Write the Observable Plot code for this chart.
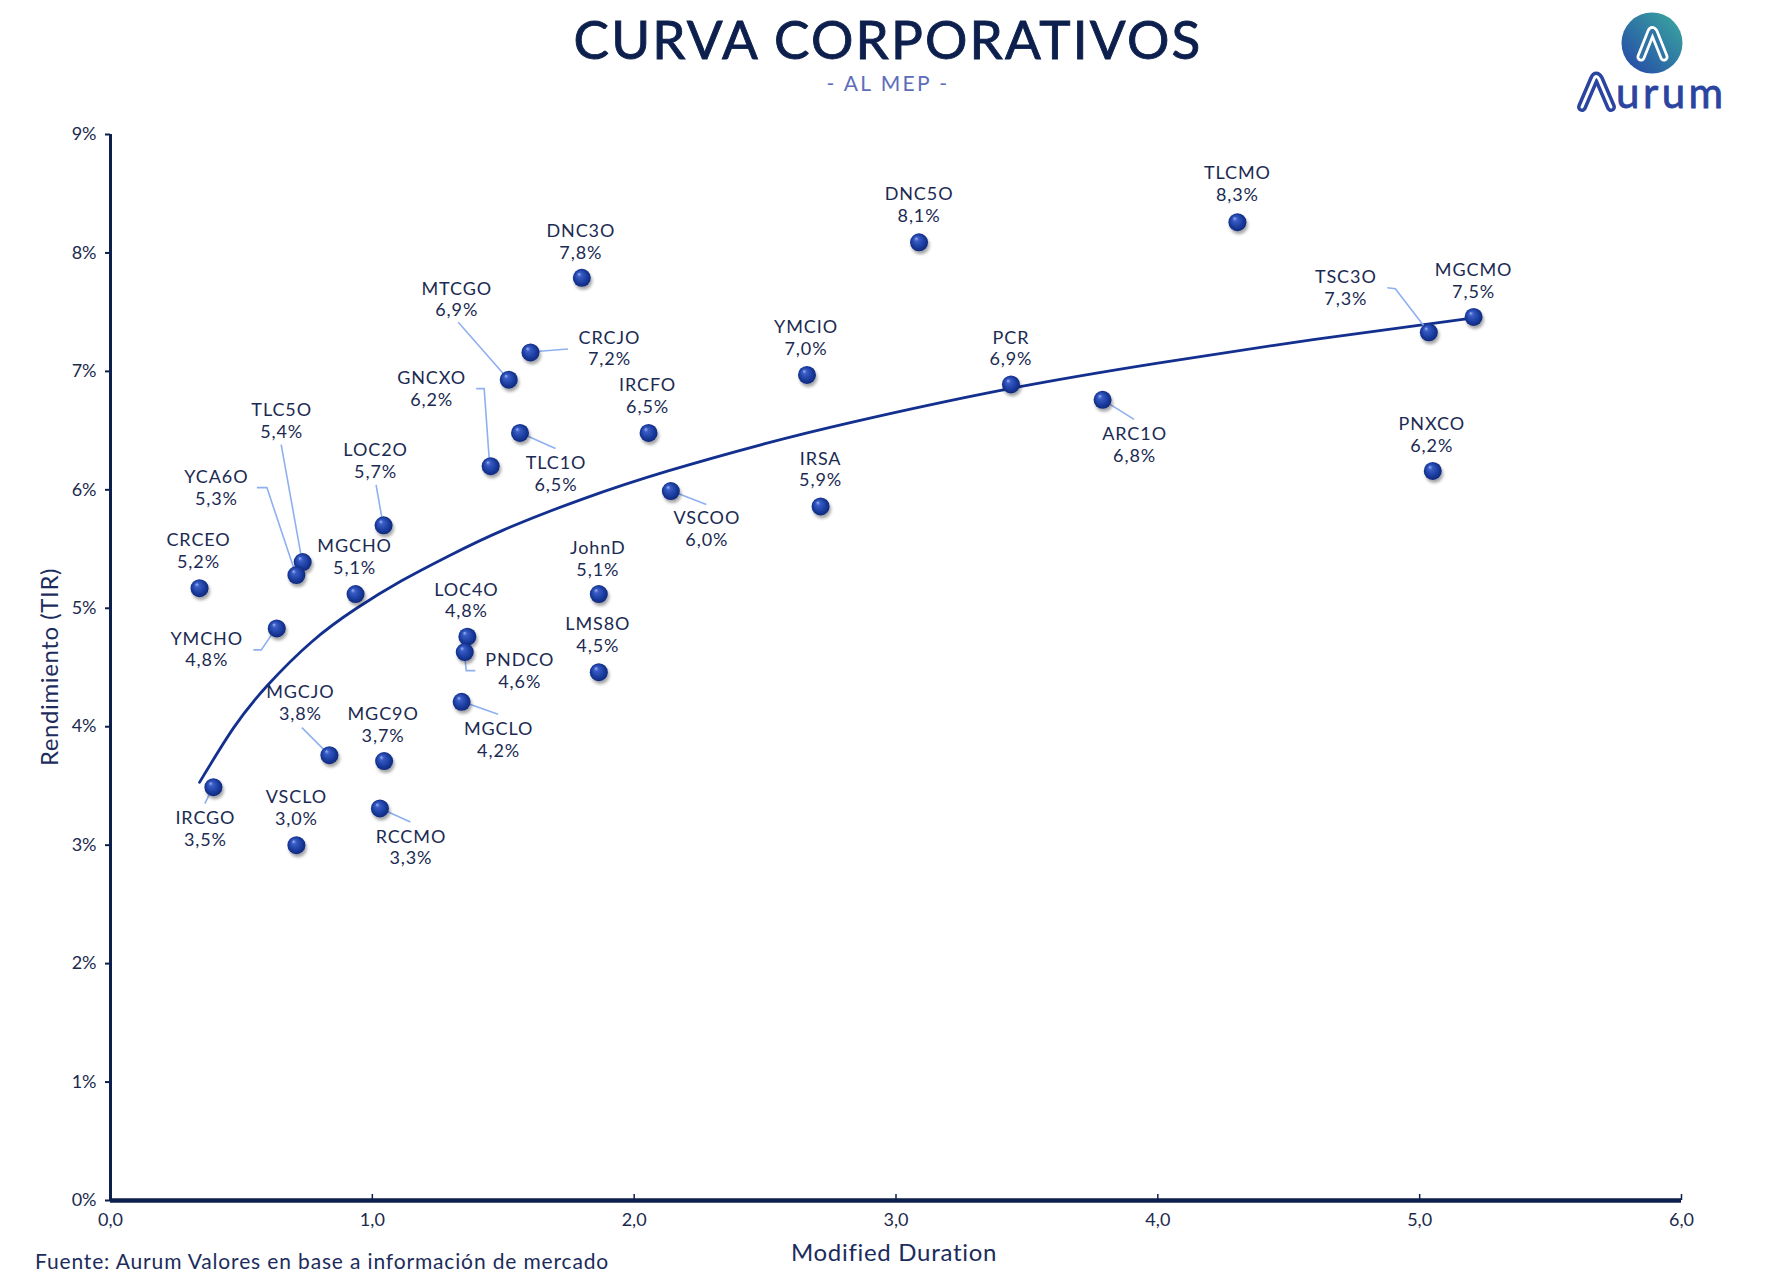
<!DOCTYPE html>
<html>
<head>
<meta charset="utf-8">
<script src="https://cdn.jsdelivr.net/npm/d3@7"></script>
<script src="https://cdn.jsdelivr.net/npm/@observablehq/plot@0.6"></script>
<style>
  body { margin: 0; background: #ffffff; }
  #wrap { position: relative; width: 1775px; height: 1288px; overflow: hidden; background: #ffffff; font-family: Lato, "Open Sans", sans-serif; }
  #chart { position: absolute; left: 0; top: 100px; }
  #deco { position: absolute; left: 0; top: 0; pointer-events: none; }
</style>
</head>
<body>
<div id="wrap">
  <div id="chart"></div>
  <svg id="deco" width="1775" height="1288" font-family="Lato, 'Open Sans', sans-serif">
    <defs>
      <linearGradient id="logoGrad" x1="0" y1="1" x2="1" y2="0">
        <stop offset="0" stop-color="#2444a8"/>
        <stop offset="1" stop-color="#3bab9f"/>
      </linearGradient>
    </defs>
    <text x="888" y="59" text-anchor="middle" font-size="53" font-weight="400" fill="#0d1f4c" stroke="#0d1f4c" stroke-width="0.9" letter-spacing="2.2">CURVA CORPORATIVOS</text>
    <text x="888" y="91" text-anchor="middle" font-size="21" fill="#5d6dba" letter-spacing="2.4">- AL MEP -</text>
    <g transform="translate(1652,43)">
      <circle r="30.5" fill="url(#logoGrad)"/>
      <path d="M-11,14 L-1,-11 Q0,-14 2,-11 L12,14" fill="none" stroke="#ffffff" stroke-width="9" stroke-linecap="round" stroke-linejoin="round"/>
      <path d="M-11,14 L-1,-11 Q0,-14 2,-11 L12,14" fill="none" stroke="#2f74a6" stroke-width="3.5" stroke-linecap="round" stroke-linejoin="round"/>
    </g>
    <path d="M1582,107 L1594,79 Q1596,74 1599,79 L1611,107" fill="none" stroke="#2a44a0" stroke-width="10" stroke-linecap="round" stroke-linejoin="round"/>
    <path d="M1582,107 L1594,79 Q1596,74 1599,79 L1611,107" fill="none" stroke="#ffffff" stroke-width="3" stroke-linecap="round" stroke-linejoin="round"/>
    <text x="1616" y="108" font-size="42" fill="#2a44a0" stroke="#2a44a0" stroke-width="0.8" letter-spacing="3.5">urum</text>
    <text transform="translate(48,667) rotate(-90)" text-anchor="middle" dominant-baseline="central" font-size="24" fill="#1c2c5c" letter-spacing="0.6">Rendimiento (TIR)</text>
    <text x="894" y="1251" text-anchor="middle" dominant-baseline="central" font-size="24" fill="#1c2c5c" letter-spacing="0.7">Modified Duration</text>
    <text x="35" y="1260" dominant-baseline="central" font-size="21" fill="#1c2c5c" letter-spacing="0.85">Fuente: Aurum Valores en base a información de mercado</text>
  </svg>
</div>
<script>
// ---- data ----
const names = ["TLCMO","DNC5O","DNC3O","MTCGO","CRCJO","YMCIO","PCR","ARC1O","TSC3O","MGCMO","PNXCO",
  "GNCXO","TLC1O","IRCFO","VSCOO","IRSA","LOC2O","TLC5O","YCA6O","CRCEO","MGCHO","JohnD",
  "YMCHO","LOC4O","PNDCO","LMS8O","MGCLO","MGCJO","MGC9O","IRCGO","RCCMO","VSCLO"];
const duration = [4.304,3.088,1.800,1.521,1.604,2.660,3.439,3.789,5.035,5.206,5.050,
  1.452,1.564,2.055,2.140,2.712,1.043,0.734,0.710,0.340,0.936,1.865,
  0.635,1.363,1.353,1.865,1.341,0.836,1.045,0.393,1.029,0.710];
const yieldPct = [8.26,8.09,7.79,6.93,7.16,6.97,6.89,6.76,7.33,7.46,6.16,
  6.20,6.48,6.48,5.99,5.86,5.70,5.39,5.28,5.17,5.12,5.12,
  4.83,4.76,4.63,4.46,4.21,3.76,3.71,3.49,3.31,3.00];
const xTicks = [0,1,2,3,4,5,6];
const yTicks = [0,1,2,3,4,5,6,7,8,9];
// logarithmic trend line
const trendX = [0.34,0.47,0.60,0.77,0.94,1.11,1.29,1.50,1.80,2.13,2.50,2.83,3.40,4.00,4.60,5.20];
const trendY = [3.53,3.99,4.35,4.72,5.00,5.23,5.44,5.66,5.92,6.16,6.39,6.57,6.84,7.07,7.27,7.45];

// ---- layout (pixel offsets of labels and leader lines, relative to each point) ----
const labelOffset = {
  TLCMO:[0,-39], DNC5O:[0,-38], DNC3O:[-1,-37], MTCGO:[-52,-81], CRCJO:[79,-5], YMCIO:[-1,-38],
  PCR:[0,-37], ARC1O:[32,44], TSC3O:[-83,-45], MGCMO:[0,-37], PNXCO:[-1,-37], GNCXO:[-59,-78],
  TLC1O:[36,40], IRCFO:[-1,-38], VSCOO:[36,37], IRSA:[0,-38], LOC2O:[-8,-65], TLC5O:[-21,-142],
  YCA6O:[-80,-88], CRCEO:[-1,-38], MGCHO:[-1,-38], JohnD:[-1,-36], YMCHO:[-70,20], LOC4O:[-1,-37],
  PNDCO:[55,18], LMS8O:[-1,-38], MGCLO:[37,37], MGCJO:[-29,-53], MGC9O:[-1,-37], IRCGO:[-8,41],
  RCCMO:[31,38], VSCLO:[0,-38]
};
const leaderPath = {
  MTCGO:[[-50,-57]], CRCJO:[[38,-3]], ARC1O:[[32,20]], TSC3O:[[-41,-44],[-33,-43]],
  GNCXO:[[-14,-77],[-6,-77],[-1,-7]], TLC1O:[[36,16]], VSCOO:[[36,14]], TLC5O:[[-21,-117]],
  YCA6O:[[-39,-87],[-29,-87]], LOC2O:[[-7,-40]], YMCHO:[[-23,22],[-15,22]], PNDCO:[[11,19],[2,19]],
  MGCLO:[[37,13]], MGCJO:[[-27,-27]], IRCGO:[[-8,17]], RCCMO:[[31,14]]
};

const bonds = names.map((name, i) => ({name, x: duration[i], y: yieldPct[i]}));
const trend = trendX.map((x, i) => ({x, y: trendY[i]}));

const navy = "#0d1f4c";
const labelColor = "#1b2a52";
const fmtPct = v => d3.format(".1f")(v).replace(".", ",") + "%";
const fmtX = v => d3.format(".1f")(v).replace(".", ",");

const leaders = Plot.dot(bonds, {
  x: "x", y: "y", r: 0,
  render(index, scales, values) {
    const g = d3.create("svg:g").attr("fill", "none").attr("stroke", "#8fb0f0").attr("stroke-width", 1.6);
    for (const i of index) {
      const pts = leaderPath[bonds[i].name];
      if (!pts) continue;
      const px = values.x[i], py = values.y[i];
      const d = "M" + pts.map(([dx, dy]) => `${px + dx},${py + dy}`).join("L") + `L${px},${py}`;
      g.append("path").attr("d", d);
    }
    return g.node();
  }
});

const labelMarks = bonds.map(b => {
  const [dx, dy] = labelOffset[b.name];
  return Plot.text([b], {
    x: "x", y: "y", text: d => d.name + "\n" + fmtPct(d.y),
    dx, dy, fontSize: 18, lineAnchor: "middle", lineHeight: 1.2, textAnchor: "middle", fill: labelColor
  });
});

const chart = Plot.plot({
  width: 1775, height: 1188,
  marginTop: 34, marginBottom: 88, marginLeft: 110, marginRight: 94,
  x: {domain: [0, 6]},
  y: {domain: [0, 9]},
  style: {fontFamily: "Lato, 'Open Sans', sans-serif", fontSize: "18px", color: "#1b2a4e", background: "transparent", overflow: "visible"},
  marks: [
    Plot.axisY({ticks: yTicks, tickSize: 5, tickPadding: 9, tickFormat: d => d + "%", stroke: navy, strokeWidth: 2, label: null, fontSize: 18}),
    Plot.axisX({ticks: xTicks, tickSize: 0, tickPadding: 13, tickFormat: fmtX, label: null, fontSize: 18}),
    Plot.axisX({ticks: xTicks.filter(d => d > 0), tickSize: 6, dy: -6, fill: "none", label: null, stroke: navy, strokeWidth: 1.5}),
    Plot.ruleX([0], {y1: 0, y2: 9, stroke: navy, strokeWidth: 3}),
    Plot.ruleY([0], {x1: 0, x2: 6, stroke: navy, strokeWidth: 4.5}),
    Plot.line(trend, {x: "x", y: "y", curve: "natural", stroke: "#13308f", strokeWidth: 2.8}),
    leaders,
    Plot.dot(bonds, {x: "x", y: "y", r: 9, fill: "url(#ball)", stroke: "none"}),
    ...labelMarks
  ]
});

// sphere gradient + shadow for the dots
const ns = "http://www.w3.org/2000/svg";
const defs = document.createElementNS(ns, "defs");
defs.innerHTML = `
  <radialGradient id="ball" cx="50%" cy="50%" r="55%" fx="33%" fy="28%">
    <stop offset="0%" stop-color="#9db4f2"/>
    <stop offset="22%" stop-color="#3a5cc6"/>
    <stop offset="65%" stop-color="#1b3d9f"/>
    <stop offset="100%" stop-color="#0b2372"/>
  </radialGradient>
  <filter id="shadow" x="-50%" y="-50%" width="220%" height="220%">
    <feDropShadow dx="1.5" dy="3" stdDeviation="1.6" flood-color="#000000" flood-opacity="0.35"/>
  </filter>`;
chart.insertBefore(defs, chart.firstChild);
d3.select(chart).selectAll('g[aria-label="dot"] circle').attr("filter", "url(#shadow)");
d3.select(chart).selectAll('g[aria-label="text"]').attr("letter-spacing", "0.9");

document.getElementById("chart").appendChild(chart);
</script>
</body>
</html>
